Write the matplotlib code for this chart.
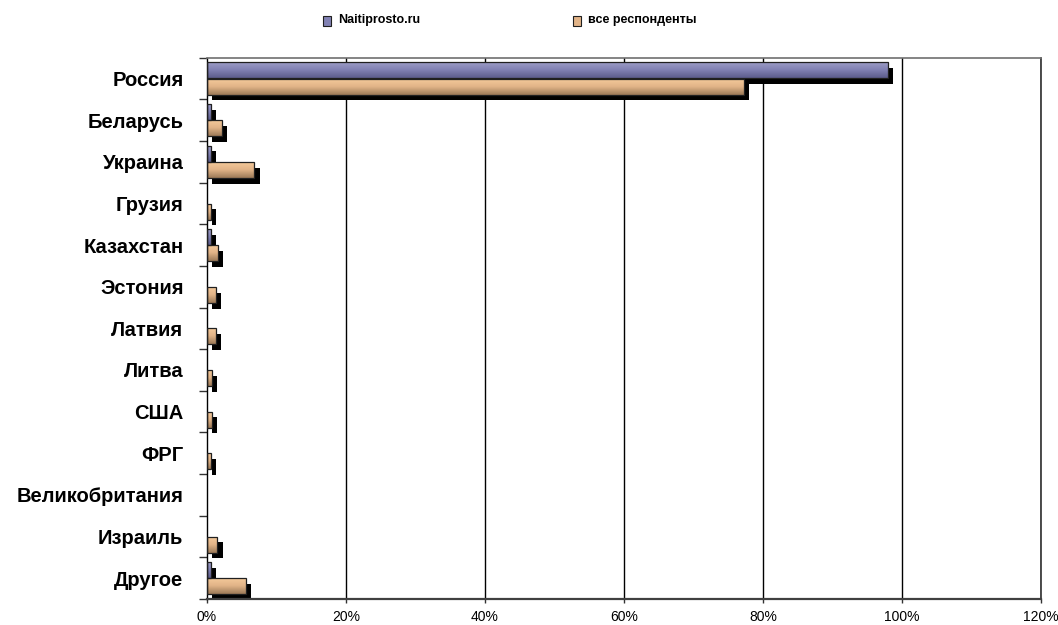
import numpy as np
import matplotlib
matplotlib.use('Agg')
import matplotlib.pyplot as plt
import matplotlib.patheffects as pe
from matplotlib.colors import LinearSegmentedColormap
from matplotlib.patches import Rectangle

plt.rcParams['font.family'] = ['Liberation Sans', 'DejaVu Sans']

countries = ['Россия', 'Беларусь', 'Украина', 'Грузия', 'Казахстан', 'Эстония',
             'Латвия', 'Литва', 'США', 'ФРГ', 'Великобритания', 'Израиль', 'Другое']
naiti = [98.0, 0.6, 0.6, 0.0, 0.6, 0.0, 0.0, 0.0, 0.0, 0.0, 0.0, 0.0, 0.6]
all_resp = [77.2, 2.1, 6.8, 0.5, 1.6, 1.25, 1.25, 0.7, 0.7, 0.5, 0.0, 1.5, 5.6]
series_names = ['Naitiprosto.ru', 'все респонденты']

blue_cmap = LinearSegmentedColormap.from_list('b', ['#5c5c8c', '#8282b4', '#a0a0c8'])
orange_cmap = LinearSegmentedColormap.from_list('o', ['#9c7a58', '#e2b488', '#f6cc9c'])

fig = plt.figure(figsize=(10.58, 6.25), dpi=100)
ax = fig.add_axes([0.1957, 0.0416, 0.7883, 0.8661])

n = len(countries)
ypos = np.arange(n)[::-1]
h = 0.385
off = 0.195

grad = np.linspace(0, 1, 64).reshape(-1, 1)


def draw_bars(vals, dy, cmap):
    for y, v in zip(ypos, vals):
        if v <= 0:
            continue
        y0 = y + dy - h / 2
        bar = Rectangle((0, y0), v, h, facecolor='none', edgecolor='#202020',
                        linewidth=0.9, zorder=3)
        # black drop shadow under each bar
        shadow = Rectangle((0, y0), v, h, facecolor='none', edgecolor='none', zorder=2)
        shadow.set_path_effects([pe.SimplePatchShadow(offset=(3.8, -4.1),
                                                      shadow_rgbFace='black', alpha=1.0)])
        ax.add_patch(shadow)
        ax.add_patch(bar)
        im = ax.imshow(grad, cmap=cmap, aspect='auto', origin='lower',
                       extent=(0, v, y0, y0 + h), zorder=2.5, interpolation='bilinear')
        im.set_clip_path(bar)


draw_bars(naiti, off, blue_cmap)
draw_bars(all_resp, -off, orange_cmap)

ax.set_xlim(0, 120)
ax.set_ylim(-0.5, n - 0.5)

ax.set_xticks(np.arange(0, 121, 20))
ax.set_xticklabels([f'{t}%' for t in range(0, 121, 20)], fontsize=10)
ax.tick_params(axis='x', length=3, width=1, pad=5, color='#333333')
for x in range(20, 121, 20):
    ax.axvline(x, color='black', linewidth=1, zorder=1)

ax.set_yticks(ypos)
ax.set_yticklabels(countries, fontsize=14.5, fontweight='bold')
ax.tick_params(axis='y', which='major', length=0, pad=17)
ax.set_yticks(np.arange(-0.5, n, 1), minor=True)
ax.tick_params(axis='y', which='minor', length=6, width=1, color='#333333')

ax.spines['left'].set_color('black')
ax.spines['left'].set_linewidth(1)
ax.spines['bottom'].set_color('#404040')
ax.spines['bottom'].set_linewidth(1.6)
ax.spines['top'].set_color('#707070')
ax.spines['top'].set_linewidth(1.2)
ax.spines['right'].set_color('#303030')
ax.spines['right'].set_linewidth(1.2)
ax.set_zorder(1)

# legend along the top
W, H = 1058, 625
for sx, tx, col, name in [(323, 338, '#8282b4', series_names[0]),
                          (573, 588, '#e2b488', series_names[1])]:
    fig.patches.append(Rectangle((sx / W, 1 - 26 / H), 8 / W, 10 / H, transform=fig.transFigure,
                                 facecolor=col, edgecolor='#202020', linewidth=0.8))
    fig.text(tx / W, 1 - 20.5 / H, name, fontsize=9, fontweight='bold', va='center', ha='left')

fig.savefig('out.png', dpi=100)
